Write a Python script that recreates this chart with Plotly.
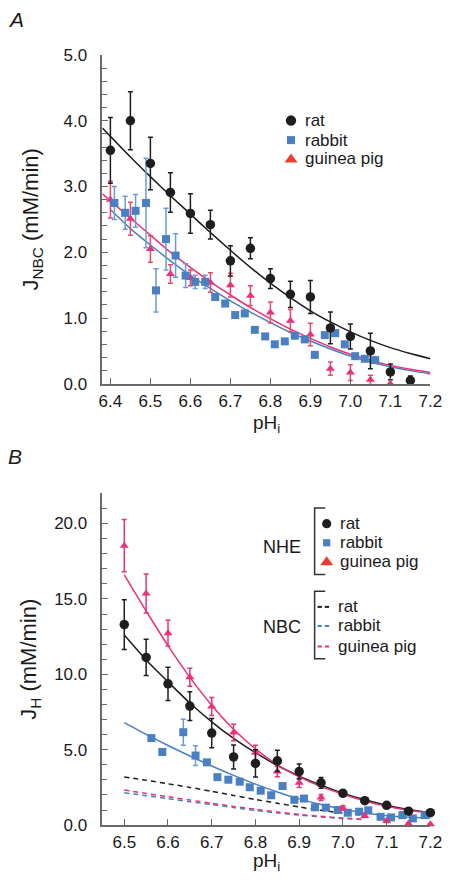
import plotly.graph_objects as go

# ---------------- Panel A: J_NBC ----------------
a_rat_x = [6.40, 6.45, 6.50, 6.55, 6.60, 6.65, 6.70, 6.75, 6.80, 6.85, 6.90, 6.95, 7.00, 7.05, 7.10, 7.15]
a_rat_y = [3.55, 4.00, 3.35, 2.91, 2.59, 2.42, 1.87, 2.06, 1.60, 1.36, 1.32, 0.85, 0.72, 0.50, 0.18, 0.05]
a_rat_err = [0.50, 0.44, 0.40, 0.30, 0.30, 0.22, 0.23, 0.16, 0.15, 0.20, 0.25, 0.24, 0.19, 0.27, 0.12, 0.07]

a_rab_x = [6.410, 6.437, 6.463, 6.489, 6.514, 6.539, 6.563, 6.588, 6.612, 6.637, 6.662, 6.687, 6.712, 6.736,
           6.761, 6.787, 6.811, 6.836, 6.861, 6.886, 6.911, 6.936, 6.962, 6.986, 7.012, 7.036, 7.062]
a_rab_y = [2.75, 2.60, 2.63, 2.75, 1.42, 2.20, 1.95, 1.645, 1.55, 1.55, 1.32, 1.22, 1.045, 1.07,
           0.82, 0.72, 0.60, 0.645, 0.73, 0.675, 0.44, 0.74, 0.77, 0.60, 0.42, 0.38, 0.36]
a_rab_err = [0.25, 0.25, 0.25, 0.68, 0.33, 0.47, 0.33, 0.18, 0.10, 0.10, 0, 0, 0, 0,
             0, 0, 0, 0, 0, 0, 0, 0, 0, 0, 0, 0, 0]

a_gp_x = [6.40, 6.45, 6.50, 6.55, 6.60, 6.65, 6.70, 6.75, 6.80, 6.85, 6.90, 6.95, 7.00, 7.05, 7.10]
a_gp_y = [2.80, 2.51, 2.05, 1.67, 1.61, 1.54, 1.50, 1.34, 1.085, 0.96, 0.75, 0.23, 0.17, 0.06, 0.0]
a_gp_err = [0.28, 0.25, 0.20, 0.14, 0.12, 0.15, 0.18, 0.15, 0.16, 0.17, 0.17, 0.10, 0.12, 0.07, 0.0]

a_fit_x = [6.38, 6.45, 6.50, 6.55, 6.60, 6.65, 6.70, 6.75, 6.80, 6.85, 6.90, 6.95, 7.00, 7.05, 7.10, 7.15, 7.20]
a_fit_rat = [3.89, 3.45, 3.15, 2.86, 2.58, 2.30, 2.03, 1.77, 1.53, 1.31, 1.11, 0.94, 0.79, 0.66, 0.55, 0.46, 0.38]
a_fit_gp = [2.89, 2.52, 2.26, 2.00, 1.77, 1.55, 1.35, 1.16, 0.99, 0.83, 0.69, 0.56, 0.45, 0.36, 0.28, 0.22, 0.17]
a_fit_rab_x = [6.40, 6.45, 6.50, 6.55, 6.60, 6.65, 6.70, 6.75, 6.80, 6.85, 6.90, 6.95, 7.00, 7.05, 7.10, 7.15, 7.20]
a_fit_rab = [2.65, 2.36, 2.11, 1.87, 1.65, 1.45, 1.26, 1.09, 0.93, 0.78, 0.65, 0.53, 0.42, 0.33, 0.26, 0.20, 0.15]

# ---------------- Panel B: J_H ----------------
b_x = [6.50, 6.55, 6.60, 6.65, 6.70, 6.75, 6.80, 6.85, 6.90, 6.95, 7.00, 7.05, 7.10, 7.15, 7.20]
b_rat_y = [13.3, 11.12, 9.37, 7.89, 6.10, 4.52, 4.09, 4.26, 3.55, 2.80, 2.11, 1.62, 1.31, 0.92, 0.82]
b_rat_err = [1.65, 1.20, 1.10, 0.95, 0.97, 0.80, 0.90, 0.70, 0.50, 0.35, 0.20, 0.15, 0.10, 0.10, 0.10]
b_gp_y = [18.53, 15.36, 12.73, 9.80, 7.86, 6.14, 4.80, 3.55, 2.80, 1.83, 1.14, 0.60, 0.28, 0.10, 0.06]
b_gp_err = [1.73, 1.30, 0.85, 0.60, 0.60, 0.55, 0.50, 0.35, 0.30, 0.20, 0.15, 0.10, 0.10, 0, 0]

b_rab_x = [6.562, 6.587, 6.635, 6.663, 6.689, 6.713, 6.738, 6.764, 6.787, 6.812, 6.836, 6.862, 6.889,
           6.911, 6.936, 6.961, 6.988, 7.011, 7.037, 7.058, 7.086, 7.110, 7.136, 7.160, 7.187]
b_rab_y = [5.77, 4.85, 6.16, 4.61, 4.16, 3.18, 3.01, 2.88, 2.51, 2.28, 1.98, 2.59, 1.68,
           1.76, 1.18, 1.16, 1.00, 0.82, 0.89, 0.98, 0.55, 0.51, 0.66, 0.44, 0.66]
b_rab_err = [0.15, 0.20, 0.86, 0.65, 0, 0, 0, 0, 0, 0, 0, 0, 0,
             0, 0, 0, 0, 0, 0, 0, 0, 0, 0, 0, 0]

b_fit_rat = [12.6, 10.95, 9.5, 8.1, 6.85, 5.75, 4.8, 3.95, 3.25, 2.65, 2.12, 1.68, 1.32, 1.03, 0.82]
b_fit_gp = [16.6, 14.2, 11.9, 9.8, 7.95, 6.35, 5.05, 4.0, 3.2, 2.55, 2.05, 1.6, 1.25, 0.98, 0.78]
b_fit_rab = [6.8, 6.02, 5.28, 4.58, 3.92, 3.3, 2.72, 2.2, 1.74, 1.36, 1.05, 0.8, 0.62, 0.52, 0.46]

nbc_x = [6.50, 6.55, 6.60, 6.65, 6.70, 6.75, 6.80, 6.85, 6.90, 6.95, 7.00, 7.05]
nbc_rat = [3.19, 2.97, 2.74, 2.50, 2.24, 1.97, 1.70, 1.45, 1.20, 0.98, 0.80, 0.66]
nbc_rab = [2.15, 1.95, 1.75, 1.55, 1.36, 1.16, 0.97, 0.80, 0.66, 0.54, 0.44, 0.36]
nbc_gp = [2.33, 2.10, 1.88, 1.66, 1.45, 1.24, 1.05, 0.87, 0.71, 0.58, 0.47, 0.38]

species = ["rat", "rabbit", "guinea pig"]

# ---------------- styles ----------------
BLACK = "#1e1e1e"
BLUE = "#4a7fc4"
BLUE_ERR = "#6b9bd8"
PINK = "#e8337a"
PINK_ERR = "#ea4a6a"
RED_LEG = "#e8402c"
AXC = "#6a6a6a"
FONT = "Arial, Liberation Sans, sans-serif"
TXT = "#1a1a1a"

W, H = 453, 885


def px(x):
    return x / W


def py(y):
    return 1 - y / H


fig = go.Figure()


def pts(x, y, err, color, ecolor, symbol, size, xa, ya, name):
    fig.add_trace(go.Scatter(
        x=x, y=y, mode="markers", xaxis=xa, yaxis=ya, showlegend=False, cliponaxis=False, name=name,
        marker=dict(color=color, symbol=symbol, size=size, line=dict(width=0)),
        error_y=dict(type="data", array=err, visible=True, color=ecolor, thickness=1.5, width=2.5)))


def line(x, y, color, xa, ya, name, dash="solid"):
    fig.add_trace(go.Scatter(
        x=x, y=y, mode="lines", xaxis=xa, yaxis=ya, showlegend=False, cliponaxis=False, name=name,
        line=dict(color=color, width=1.5, shape="spline", smoothing=0.6, dash=dash)))


# Panel A
line(a_fit_x, a_fit_rat, BLACK, "x", "y", "rat fit")
line(a_fit_rab_x, a_fit_rab, BLUE, "x", "y", "rabbit fit")
line(a_fit_x, a_fit_gp, PINK, "x", "y", "guinea pig fit")
pts(a_gp_x, a_gp_y, a_gp_err, PINK, PINK_ERR, "triangle-up", 8, "x", "y", "guinea pig")
pts(a_rab_x, a_rab_y, a_rab_err, BLUE, BLUE_ERR, "square", 8, "x", "y", "rabbit")
pts(a_rat_x, a_rat_y, a_rat_err, BLACK, BLACK, "circle", 9.5, "x", "y", "rat")

# Panel B
line(nbc_x, nbc_rat, BLACK, "x2", "y2", "NBC rat", dash="5px,4px")
line(nbc_x, nbc_rab, BLUE, "x2", "y2", "NBC rabbit", dash="5px,4px")
line(nbc_x, nbc_gp, PINK, "x2", "y2", "NBC guinea pig", dash="5px,4px")
line(b_x, b_fit_rab, BLUE, "x2", "y2", "NHE rabbit fit")
line(b_x, b_fit_rat, BLACK, "x2", "y2", "NHE rat fit")
line(b_x, b_fit_gp, PINK, "x2", "y2", "NHE guinea pig fit")
pts(b_rab_x, b_rab_y, b_rab_err, BLUE, BLUE_ERR, "square", 8, "x2", "y2", "NHE rabbit")
pts(b_x, b_gp_y, b_gp_err, PINK, PINK, "triangle-up", 8, "x2", "y2", "NHE guinea pig")
pts(b_x, b_rat_y, b_rat_err, BLACK, BLACK, "circle", 9.5, "x2", "y2", "NHE rat")

axis_common = dict(showline=True, linecolor=AXC, linewidth=1.5, ticks="inside", ticklen=6,
                   tickcolor=AXC, tickwidth=1.2, showgrid=False, zeroline=False, mirror=False,
                   ticklabeloverflow="allow",
                   tickfont=dict(family=FONT, size=17, color=TXT), tickformat=".1f")

xd = [px(102), px(442)]
fig.update_layout(
    width=W, height=H, autosize=False, margin=dict(l=0, r=0, t=0, b=0),
    paper_bgcolor="white", plot_bgcolor="white", showlegend=False,
    font=dict(family=FONT, color=TXT),
    xaxis=dict(domain=xd, range=[6.38, 7.2], tick0=6.4, dtick=0.1, anchor="y", ticklabelstandoff=1,
               **axis_common),
    yaxis=dict(domain=[py(383), py(47)], range=[0, 5.0], tick0=0, dtick=1, anchor="x", ticklabelstandoff=10,
               minor=dict(ticks="inside", dtick=0.2, ticklen=5, tickcolor=AXC, tickwidth=1.2),
               title=dict(text="J<sub>NBC</sub> (mM/min)", font=dict(size=22, family=FONT), standoff=19),
               **axis_common),
    xaxis2=dict(domain=xd, range=[6.45, 7.2], tick0=6.5, dtick=0.1, anchor="y2", ticklabelstandoff=1,
                **axis_common),
    yaxis2=dict(domain=[py(834), py(495)], range=[0, 22], tick0=0, dtick=5, anchor="x2", ticklabelstandoff=10,
                minor=dict(ticks="inside", dtick=1, ticklen=5, tickcolor=AXC, tickwidth=1.2),
                title=dict(text="J<sub>H</sub> (mM/min)", font=dict(size=22, family=FONT), standoff=11),
                **axis_common),
)


def text(t, x, y, size=17, anchor="left", italic=False):
    fig.add_annotation(text=f"<i>{t}</i>" if italic else t, x=px(x), y=py(y), xref="paper", yref="paper",
                       xanchor=anchor, yanchor="middle", showarrow=False,
                       font=dict(size=size, family=FONT, color=TXT))


def marker_shape(kind, cx, cy, r, color):
    common = dict(xref="paper", yref="paper", xsizemode="pixel", ysizemode="pixel",
                  xanchor=px(cx), yanchor=py(cy), fillcolor=color, line=dict(width=0))
    if kind == "circle":
        fig.add_shape(type="circle", x0=-r, x1=r, y0=-r, y1=r, **common)
    elif kind == "square":
        fig.add_shape(type="rect", x0=-r, x1=r, y0=-r, y1=r, **common)
    else:
        fig.add_shape(type="path", path=f"M {-r*1.25},{-r*0.75} L {r*1.25},{-r*0.75} L 0,{r*1.0} Z", **common)


# panel letters
text("A", 2, 11, size=21, italic=True)
text("B", 2, 457, size=21, italic=True)

# x-axis titles
text("pH<sub>i</sub>", 272, 424, size=19, anchor="center")
text("pH<sub>i</sub>", 272, 871.5, size=19, anchor="center")

# legend of panel A
legA_y = [114, 134, 153]
for name, yy, (kind, col, r) in zip(species, legA_y,
                                    [("circle", BLACK, 5.2), ("square", BLUE, 4.0), ("tri", RED_LEG, 5.2)]):
    marker_shape(kind, 297.5, yy, r, col)
    text(name, 310, yy, size=17)

# legend of panel B: NHE
text("NHE", 288, 550, size=18, anchor="center")
nhe_y = [526, 545.5, 564.5]
for name, yy, (kind, col, r) in zip(species, nhe_y,
                                    [("circle", BLACK, 4.6), ("square", BLUE, 3.6), ("tri", RED_LEG, 5.2)]):
    marker_shape(kind, 334.5, yy, r, col)
    text(name, 346, yy, size=17)

# legend of panel B: NBC
text("NBC", 288, 632, size=18, anchor="center")
nbc_y = [611, 630.5, 651.5]
for name, yy, col in zip(species, nbc_y, [BLACK, BLUE, PINK]):
    for x0 in (325, 332.5):
        fig.add_shape(type="line", xref="paper", yref="paper", x0=px(x0), x1=px(x0 + 4.5),
                      y0=py(yy), y1=py(yy), line=dict(color=col, width=2))
    text(name, 344, yy, size=17)

# brackets
for (top, bot) in [(510, 578), (595, 664)]:
    fig.add_shape(type="path", xref="paper", yref="paper",
                  path=f"M {px(333)},{py(top)} L {px(322)},{py(top)} L {px(322)},{py(bot)} L {px(333)},{py(bot)}",
                  line=dict(color="#333", width=1.5))

fig.write_html("out.html", config={"displayModeBar": False},
               post_script="document.body.style.margin='0';")
